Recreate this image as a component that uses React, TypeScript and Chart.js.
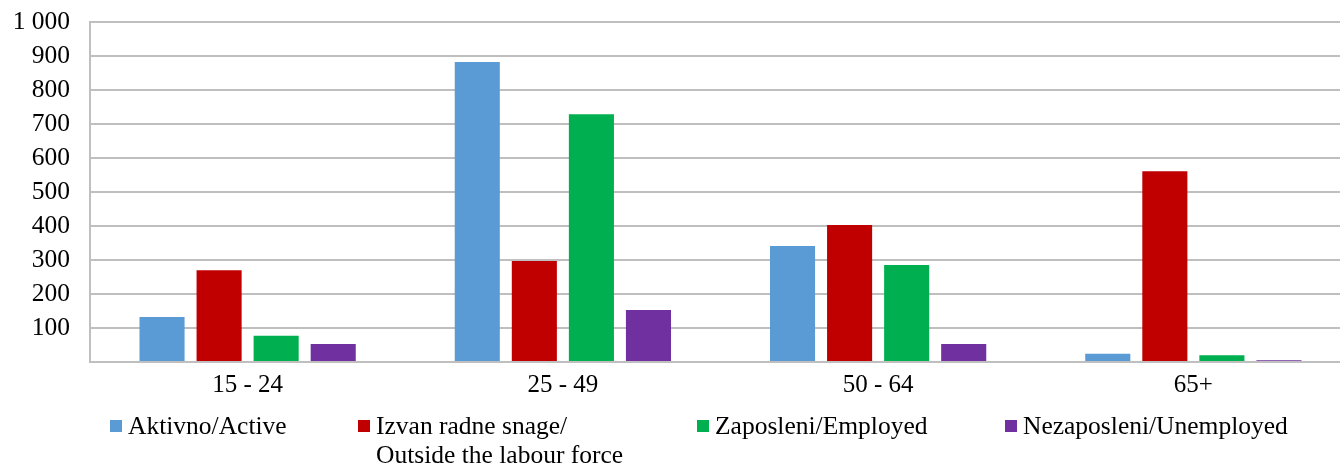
import React, { useEffect, useRef } from 'react';
import { Chart, registerables } from 'chart.js';

Chart.register(...registerables);

const categories = ['15 - 24', '25 - 49', '50 - 64', '65+'];
const active = [132, 882, 341, 24];
const outside = [270, 297, 403, 561];
const employed = [77, 729, 285, 20];
const unemployed = [53, 153, 53, 5];
const seriesNames = ['Aktivno/Active', 'Izvan radne snage/ Outside the labour force', 'Zaposleni/Employed', 'Nezaposleni/Unemployed'];
const legendLines = [['Aktivno/Active'], ['Izvan radne snage/', 'Outside the labour force'], ['Zaposleni/Employed'], ['Nezaposleni/Unemployed']];
const colors = ['#5B9BD5', '#C00000', '#00B050', '#7030A0'];
const yMin = 0;
const yMax = 1000;
const yStep = 100;

const FONT = '"Liberation Serif", "Times New Roman", serif';
const legendX = [110, 358, 697, 1005];

const formatTick = (v: number) => (v === 0 ? '' : String(v).replace(/\B(?=(\d{3})+(?!\d))/g, ' '));

const legendPlugin = {
  id: 'customLegend',
  afterDraw(chart: any) {
    const ctx = chart.ctx;
    ctx.save();
    ctx.font = `25.5px ${FONT}`;
    ctx.textBaseline = 'middle';
    ctx.textAlign = 'left';
    chart.data.datasets.forEach((ds: any, i: number) => {
      const x = legendX[i];
      ctx.fillStyle = ds.backgroundColor;
      ctx.fillRect(x, 420, 12, 12);
      ctx.fillStyle = '#000';
      legendLines[i].forEach((line, j) => ctx.fillText(line, x + 18, 427 + j * 29));
    });
    ctx.restore();
  },
};

export default function App() {
  const ref = useRef<HTMLCanvasElement | null>(null);
  useEffect(() => {
    if (!ref.current) return;
    const series = [active, outside, employed, unemployed];
    const chart = new Chart(ref.current, {
      type: 'bar',
      data: {
        labels: categories,
        datasets: series.map((d, i) => ({
          label: seriesNames[i],
          data: d,
          backgroundColor: colors[i],
          borderWidth: 0,
          categoryPercentage: 0.724,
          barPercentage: 0.79,
        })),
      },
      options: {
        animation: false,
        responsive: true,
        maintainAspectRatio: false,
        layout: { padding: { left: 0, top: 22, right: 0, bottom: 70 } },
        plugins: { legend: { display: false }, tooltip: { enabled: false } },
        scales: {
          x: {
            grid: { display: false, drawTicks: false },
            border: { display: true, color: '#BFBFBF', width: 2 },
            ticks: { color: '#000', font: { family: FONT, size: 25 }, padding: 8 },
            afterFit: (s: any) => { s.height = 32; s.paddingLeft = 0; s.paddingRight = 0; },
          },
          y: {
            min: yMin,
            max: yMax,
            ticks: {
              stepSize: yStep,
              autoSkip: false,
              color: '#000',
              font: { family: FONT, size: 25.5 },
              padding: 20,
              callback: (v: any) => formatTick(Number(v)),
            },
            grid: { color: '#BFBFBF', lineWidth: 2, drawTicks: false },
            border: { display: true, color: '#BFBFBF', width: 2 },
            afterFit: (s: any) => { s.width = 90; s.paddingTop = 0; s.paddingBottom = 0; },
          },
        },
      },
      plugins: [legendPlugin],
    });
    return () => chart.destroy();
  }, []);
  return (
    <div style={{ position: 'fixed', left: 0, top: 0, width: 1340, height: 464, overflow: 'hidden', background: '#fff' }}>
      <div style={{ position: 'absolute', left: 0, top: 0, width: 1351, height: 464 }}>
        <canvas ref={ref} />
      </div>
    </div>
  );
}
